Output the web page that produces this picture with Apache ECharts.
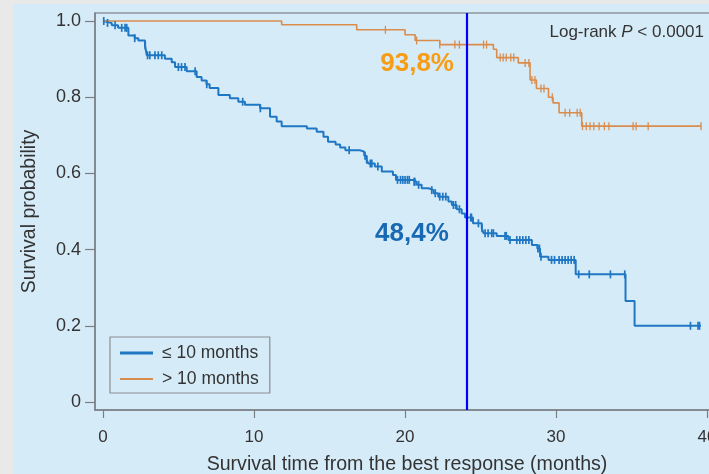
<!DOCTYPE html>
<html>
<head>
<meta charset="utf-8">
<script src="https://cdn.jsdelivr.net/npm/echarts@6/dist/echarts.min.js"></script>
<style>
html,body{margin:0;padding:0;width:709px;height:474px;background:#e9e9e9;overflow:hidden;}
#chart{position:absolute;left:13px;top:4px;width:696px;height:470px;}
</style>
</head>
<body>
<div id="chart"></div>
<script>
// ---- Data ----
const seriesNames = ['\u2264 10 months', '> 10 months'];

// Kaplan-Meier steps for "<= 10 months": time (months) and survival after each drop
const shortTimes = [0, 0.13, 0.58, 1.0, 1.68, 2.1, 2.34, 2.78, 2.9, 4.1, 4.55, 4.77, 5.54, 6.2, 6.53, 6.85, 7.06, 7.64, 8.4, 8.96, 9.4, 10.4, 11.06, 11.5, 11.83, 13.5, 14.15, 14.6, 14.9, 15.4, 15.7, 16.05, 17.0, 17.3, 17.45, 17.57, 18.0, 18.46, 19.2, 19.4, 20.55, 20.77, 21.1, 21.55, 21.9, 22.2, 22.87, 23.1, 23.42, 23.75, 23.97, 24.5, 25.08, 25.2, 26.07, 26.84, 28.4, 28.76, 28.94, 29.5, 31.3, 34.6, 35.2, 39.6];
const shortSurv  = [1.0, 0.995, 0.989, 0.982, 0.962, 0.955, 0.949, 0.936, 0.91, 0.901, 0.892, 0.879, 0.868, 0.853, 0.844, 0.834, 0.824, 0.806, 0.797, 0.788, 0.78, 0.771, 0.749, 0.736, 0.724, 0.718, 0.709, 0.696, 0.683, 0.676, 0.668, 0.661, 0.657, 0.646, 0.636, 0.626, 0.618, 0.605, 0.596, 0.583, 0.578, 0.57, 0.561, 0.556, 0.548, 0.539, 0.526, 0.517, 0.506, 0.495, 0.484, 0.469, 0.456, 0.443, 0.436, 0.425, 0.412, 0.403, 0.381, 0.373, 0.335, 0.265, 0.2, 0.2];
const shortCensor = [0.05, 0.3, 0.8, 1.24, 1.46, 1.57, 2.1, 2.8, 2.95, 3.1, 3.44, 3.66, 3.89, 4.99, 5.2, 5.43, 6.1, 6.87, 9.25, 10.42, 16.3, 17.35, 17.46, 17.7, 17.8, 18.2, 19.5, 19.7, 19.85, 20.0, 20.16, 20.28, 20.6, 20.65, 20.9, 21.77, 22.0, 22.3, 22.5, 22.7, 23.2, 23.35, 23.6, 24.35, 24.4, 24.86, 25.1, 25.3, 25.5, 25.74, 25.85, 26.62, 26.7, 26.95, 27.4, 27.6, 27.8, 28.0, 28.2, 28.8, 28.9, 29.0, 29.7, 29.9, 30.2, 30.4, 30.6, 30.8, 31.0, 31.2, 31.5, 32.2, 33.6, 34.55, 38.9, 39.4, 39.5];

// Kaplan-Meier steps for "> 10 months"
const longTimes = [0, 11.83, 16.8, 20.0, 20.67, 22.3, 25.85, 26.07, 27.5, 28.28, 28.7, 29.5, 29.8, 30.2, 31.7, 39.6];
const longSurv  = [1.0, 0.99, 0.977, 0.964, 0.949, 0.938, 0.926, 0.904, 0.89, 0.845, 0.823, 0.8, 0.785, 0.759, 0.724, 0.724];
const longCensor = [18.7, 20.77, 22.3, 23.3, 23.6, 25.2, 25.4, 26.3, 26.5, 26.7, 27.0, 27.2, 27.95, 28.2, 28.4, 28.6, 29.0, 29.2, 29.75, 30.6, 30.9, 31.4, 31.6, 31.75, 32.0, 32.25, 32.5, 32.85, 33.2, 33.5, 35.1, 35.3, 36.1, 39.6];

// Tick labels
const xTicks = [0, 10, 20, 30, 40];
const yTicks = [0, 0.2, 0.4, 0.6, 0.8, 1.0];
const yTickLabels = ['0', '0.2', '0.4', '0.6', '0.8', '1.0'];

// Landmark and annotations
const landmarkTime = 24.1;
const annotTexts = ['93,8%', '48,4%'];
const annotTimes = [20.8, 20.46];
const annotSurv = [0.887, 0.441];

// ---- Helpers ----
function pairs(ts, vs) { return ts.map((t, i) => [t, vs[i]]); }
function stepValue(ts, vs, t) {
  let v = vs[0];
  for (let i = 0; i < ts.length; i++) { if (ts[i] <= t) v = vs[i]; else break; }
  return v;
}
function censorPts(cs, ts, vs) { return cs.map(t => [t, stepValue(ts, vs, t)]); }

const blue = '#1f77c4';
const orange = '#d98c4c';
const annotColors = ['#f79c14', '#1769b3'];
const font = "'Liberation Sans', Arial, Helvetica, sans-serif";

const chart = echarts.init(document.getElementById('chart'), null, {renderer: 'canvas'});
chart.setOption({
  backgroundColor: '#d6ebf8',
  animation: false,
  textStyle: {fontFamily: font},
  title: {
    right: 0, top: 15,
    text: '{a|Log-rank }{b|P}{a| < 0.0001}',
    textStyle: {
      fontWeight: 'normal',
      rich: {
        a: {fontSize: 17, color: '#333', fontWeight: 'normal', fontFamily: font},
        b: {fontSize: 17, color: '#333', fontWeight: 'normal', fontStyle: 'italic', fontFamily: font}
      }
    }
  },
  legend: {
    orient: 'vertical',
    left: 97, top: 333,
    padding: [7, 11, 5, 10],
    itemGap: 8,
    itemWidth: 33, itemHeight: 14,
    borderColor: '#8a8f94', borderWidth: 1.2,
    textStyle: {fontSize: 17.5, color: '#333', fontFamily: font, padding: [0, 0, 0, 4]},
    data: [
      {name: seriesNames[0], icon: 'path://M0,0H33V3H0Z', itemStyle: {color: blue}},
      {name: seriesNames[1], icon: 'path://M0,0H33V2H0Z', itemStyle: {color: orange}}
    ]
  },
  grid: {
    left: 82, top: 9, bottom: 64, right: -10,
    outerBoundsMode: 'none', containLabel: false,
    show: true, borderColor: '#8f989f', borderWidth: 1.5, backgroundColor: 'transparent'
  },
  xAxis: {
    type: 'value', min: -0.53, max: 40.79,
    splitLine: {show: false},
    axisLine: {show: true, onZero: false, lineStyle: {color: '#7a7f84', width: 1.5}},
    axisTick: {show: true, length: 8, customValues: xTicks, lineStyle: {color: '#7a7f84', width: 1.2}},
    axisLabel: {customValues: xTicks, fontSize: 17, color: '#333', margin: 19, fontFamily: font},
    name: 'Survival time from the best response (months)',
    nameLocation: 'middle', nameGap: 45,
    nameTextStyle: {fontSize: 19.6, color: '#333', fontFamily: font}
  },
  yAxis: {
    type: 'value', min: -0.021, max: 1.021,
    splitLine: {show: false},
    axisLine: {show: true, onZero: false, lineStyle: {color: '#7a7f84', width: 1.5}},
    axisTick: {show: true, length: 10, customValues: yTicks, lineStyle: {color: '#7a7f84', width: 1.2}},
    axisLabel: {
      customValues: yTicks, fontSize: 18, color: '#333', margin: 14, fontFamily: font,
      formatter: v => { const i = yTicks.findIndex(t => Math.abs(t - v) < 1e-6); return i >= 0 ? yTickLabels[i] : ''; }
    },
    name: 'Survival probability',
    nameLocation: 'middle', nameGap: 55,
    nameTextStyle: {fontSize: 19.5, color: '#333', fontFamily: font}
  },
  series: [
    {
      name: seriesNames[0], type: 'line', step: 'end', symbol: 'none',
      data: pairs(shortTimes, shortSurv),
      lineStyle: {color: blue, width: 2}, itemStyle: {color: blue},
      z: 3,
      markLine: {
        silent: true, symbol: 'none', label: {show: false},
        lineStyle: {color: '#0000ff', width: 2.2, type: 'solid'},
        data: [{xAxis: landmarkTime}]
      }
    },
    {
      name: seriesNames[1], type: 'line', step: 'end', symbol: 'none',
      data: pairs(longTimes, longSurv),
      lineStyle: {color: orange, width: 1.6}, itemStyle: {color: orange},
      z: 3
    },
    {
      type: 'scatter', symbol: 'rect', symbolSize: [1.7, 8],
      data: censorPts(shortCensor, shortTimes, shortSurv),
      itemStyle: {color: blue, opacity: 1}, z: 4, silent: true
    },
    {
      type: 'scatter', symbol: 'rect', symbolSize: [1.3, 8],
      data: censorPts(longCensor, longTimes, longSurv),
      itemStyle: {color: orange, opacity: 1}, z: 4, silent: true
    },
    {
      type: 'scatter', symbolSize: 1, silent: true, z: 5,
      data: annotTexts.map((s, i) => ({
        value: [annotTimes[i], annotSurv[i]], name: s,
        label: {color: annotColors[i]}
      })),
      label: {
        show: true, position: 'inside', formatter: p => p.name,
        fontSize: 26, fontWeight: 'bold', fontFamily: font, opacity: 1
      },
      itemStyle: {color: 'rgba(0,0,0,0)', opacity: 1}
    }
  ]
});
</script>
</body>
</html>
